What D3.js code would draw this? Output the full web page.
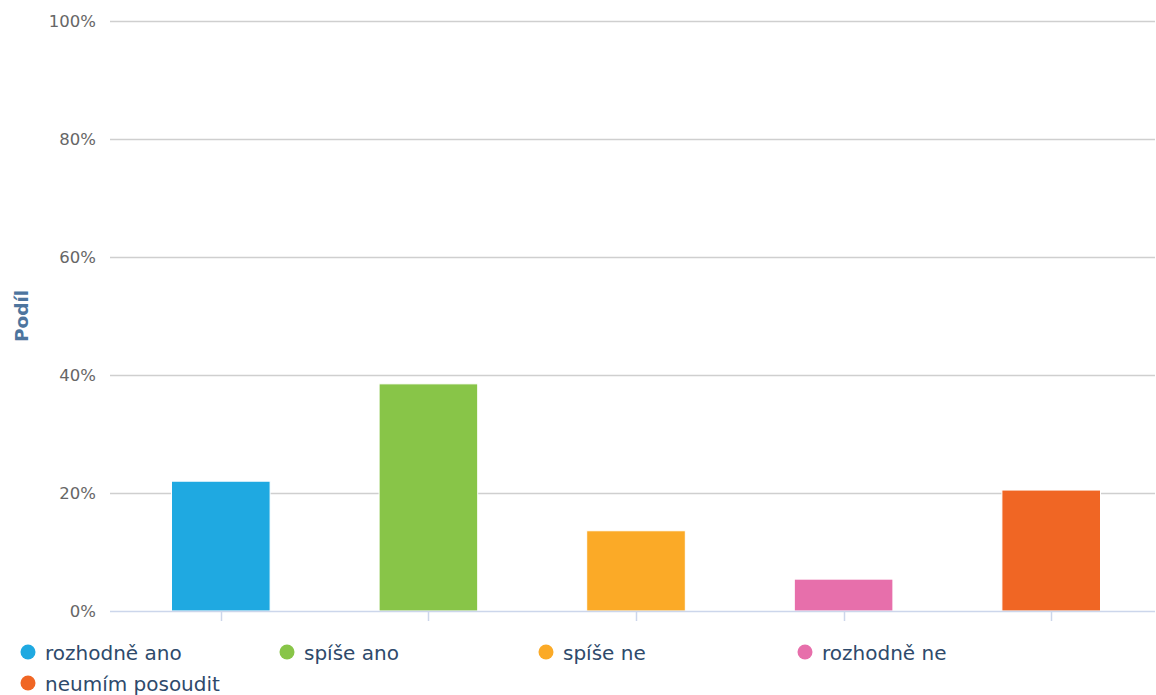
<!DOCTYPE html>
<html><head><meta charset="utf-8">
<script src="https://cdn.jsdelivr.net/npm/d3@7"></script>
<style>body{margin:0;background:#fff;}svg{display:block;font-family:"DejaVu Sans",sans-serif;}</style>
</head><body><svg id="c" width="1156" height="695"></svg>
<script>
const categories = ["rozhodně ano","spíše ano","spíše ne","rozhodně ne","neumím posoudit"];
const values = [22.0, 38.5, 13.6, 5.4, 20.5];
const colors = ["#1fa9e1","#88c548","#fbaa27","#e76fab","#f06624"];
const yTicks = [0,20,40,60,80,100];
const yTitle = "Podíl";

(function(){
const svg = d3.select("#c");
const plotL = 110, plotR = 1155, plotTop = 21, plotBottom = 611;
const x = d3.scaleBand().domain(categories).range([117, 1155]).paddingInner(0.525).paddingOuter(0.2625);
const y = d3.scaleLinear().domain([0,100]).range([plotBottom, plotTop]);

// gridlines
svg.append("g").selectAll("line").data(yTicks.filter(d=>d>0)).join("line")
  .attr("x1", plotL).attr("x2", plotR)
  .attr("y1", d=>y(d)+0.5).attr("y2", d=>y(d)+0.5)
  .attr("stroke","#cfcfcf").attr("stroke-width",1.5);

// y labels
svg.append("g").selectAll("text").data(yTicks).join("text")
  .attr("x", 96).attr("y", d=>y(d)+6)
  .attr("text-anchor","end").attr("fill","#666").attr("font-size","16.5px")
  .text(d=>d+"%");

// bars
svg.append("g").selectAll("rect").data(categories).join("rect")
  .attr("x", d=>x(d)).attr("width", x.bandwidth())
  .attr("y", (d,i)=>y(values[i])).attr("height",(d,i)=>y(0)-y(values[i]))
  .attr("fill",(d,i)=>colors[i]).attr("stroke","#fff").attr("stroke-width",1);

// x axis line and ticks
svg.append("line").attr("x1",plotL).attr("x2",plotR).attr("y1",plotBottom+0.5).attr("y2",plotBottom+0.5)
  .attr("stroke","#ccd6eb").attr("stroke-width",1.5);
svg.append("g").selectAll("line").data(categories).join("line")
  .attr("x1",d=>Math.round(x(d)+x.bandwidth()/2)+0.5).attr("x2",d=>Math.round(x(d)+x.bandwidth()/2)+0.5)
  .attr("y1",plotBottom).attr("y2",plotBottom+10).attr("stroke","#ccd6eb").attr("stroke-width",1.5);

// y title
svg.append("text").attr("transform","translate(28,316) rotate(-90)")
  .attr("text-anchor","middle").attr("fill","#4d759e").attr("font-size","18.5px").attr("font-weight","bold")
  .text(yTitle);

// legend
const lg = svg.append("g").selectAll("g").data(categories).join("g")
  .attr("transform",(d,i)=>`translate(${28 + (i%4)*259},${652 + Math.floor(i/4)*31})`);
lg.append("circle").attr("r",7.5).attr("cx",0).attr("cy",0).attr("fill",(d,i)=>colors[i]);
lg.append("text").attr("x",17).attr("y",8).attr("fill","#2e4a6b").attr("font-size","20px").text(d=>d);
})();
</script></body></html>
